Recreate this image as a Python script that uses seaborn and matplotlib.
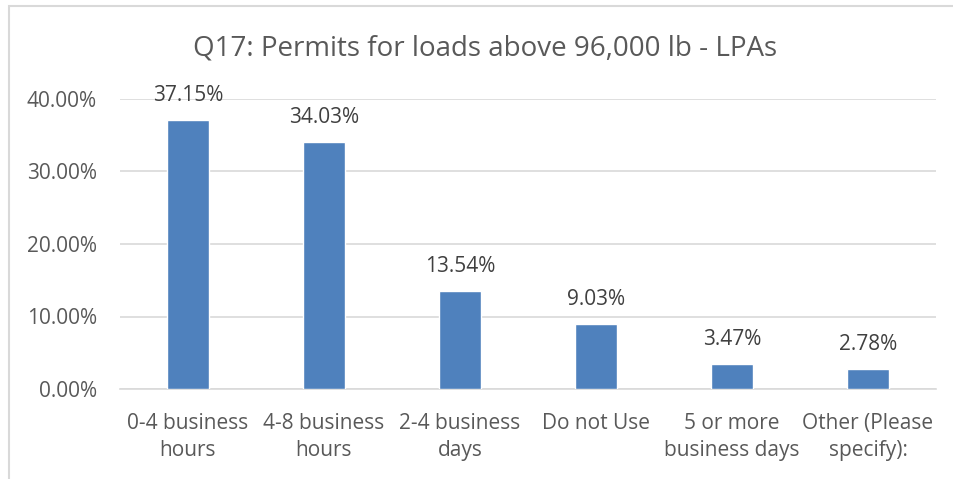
import matplotlib
matplotlib.use("Agg")
import matplotlib.pyplot as plt
import seaborn as sns
import pandas as pd
from matplotlib.ticker import PercentFormatter, MultipleLocator
from matplotlib.patches import Rectangle

categories = ["0-4 business\nhours", "4-8 business\nhours", "2-4 business\ndays",
              "Do not Use", "5 or more\nbusiness days", "Other (Please\nspecify):"]
values = [0.3715, 0.3403, 0.1354, 0.0903, 0.0347, 0.0278]
value_labels = ["37.15%", "34.03%", "13.54%", "9.03%", "3.47%", "2.78%"]
title = "Q17: Permits for loads above 96,000 lb - LPAs"

sns.set_theme(style="white")
plt.rcParams['font.family'] = ['Open Sans', 'DejaVu Sans']

df = pd.DataFrame({"cat": categories, "val": values})

fig = plt.figure(figsize=(9.54, 4.79), dpi=100)
ax = fig.add_axes([120/954, 1-389/479, (936-120)/954, (389-99)/479])

sns.barplot(data=df, x="cat", y="val", color="#4F81BD", width=0.31, ax=ax,
            saturation=1, zorder=3)

ax.set_ylim(0, 0.40)
ax.yaxis.set_major_locator(MultipleLocator(0.10))
ax.yaxis.set_major_formatter(PercentFormatter(1.0, decimals=2))
ax.grid(axis="y", color="#D9D9D9", linewidth=1.2, zorder=0)
ax.set_axisbelow(True)
for s in ["top", "right", "left"]:
    ax.spines[s].set_visible(False)
ax.spines["bottom"].set_color("#D9D9D9")
ax.spines["bottom"].set_linewidth(1.2)
ax.set_xlabel("")
ax.set_ylabel("")
ax.tick_params(axis="y", labelsize=15, colors="#595959", length=0, pad=16.5)
ax.tick_params(axis="x", labelsize=15, colors="#595959", length=0, pad=17)
for lbl in ax.get_xticklabels():
    lbl.set_linespacing(1.4)
    lbl.set_verticalalignment("top")

for p, txt in zip(ax.patches, value_labels):
    ax.annotate(txt, (p.get_x() + p.get_width()/2, p.get_height()),
                xytext=(0, 10), textcoords="offset points",
                ha="center", va="bottom", fontsize=15, color="#404040")

fig.text(485/954, 1-48/479, title, ha="center", va="center",
         fontsize=20, color="#595959")

fig.patches.append(Rectangle((9/954, -0.1), 1.2, 1-6/479+0.1, transform=fig.transFigure,
                             fill=False, edgecolor="#D9D9D9", linewidth=1.5))

fig.savefig("out.png", dpi=100, facecolor="white")
